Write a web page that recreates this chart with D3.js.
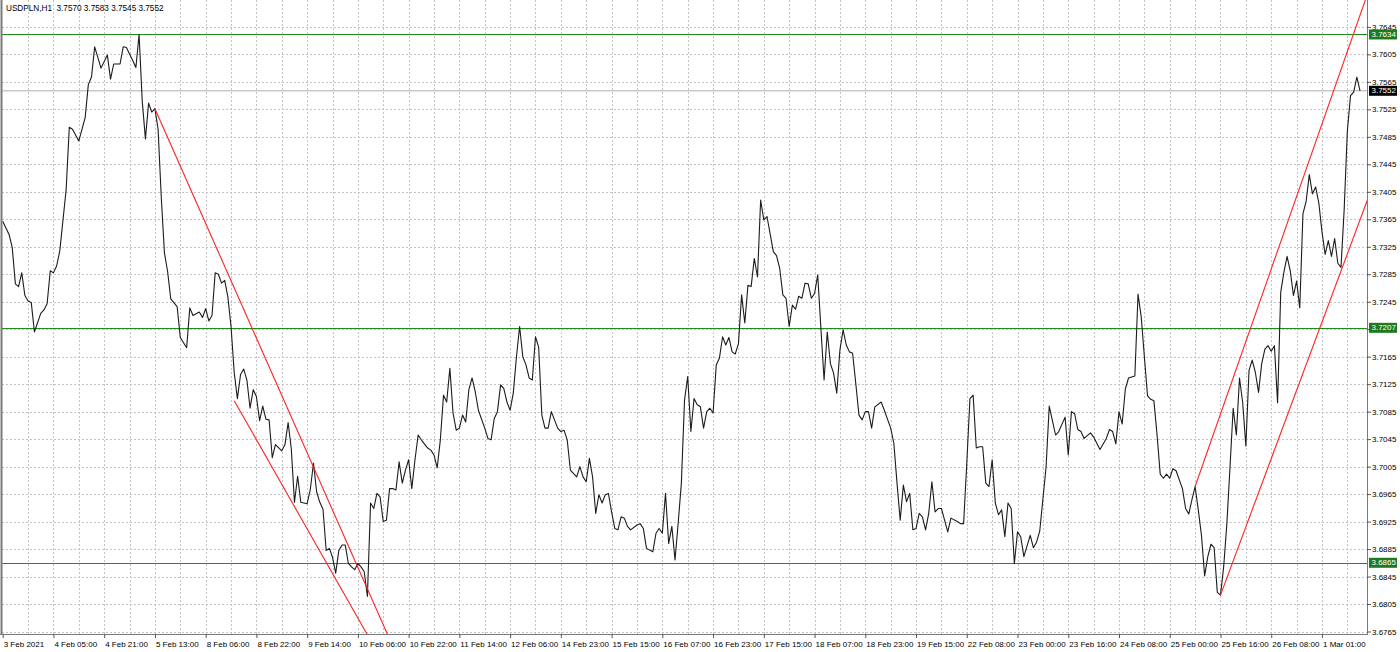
<!DOCTYPE html>
<html>
<head>
<meta charset="utf-8">
<style>
  html, body { margin: 0; padding: 0; background: #ffffff; }
  svg { display: block; font-family: "Liberation Sans", Arial, sans-serif; }
</style>
</head>
<body>
<div id="chart"></div>
<script src="https://d3js.org/d3.v7.min.js"></script>
<script>
// hourly bars, index 0 = 3 Feb 2021 13:00 (weekends skipped)
const bars = [0,2,3,4,5,6,7,8,9,10,12,13,14,15,16,17,18,20,21,22,24,25,26,27,28,29,31,33,34,35,37,38,39,41,42,43,44,45,46,47,48,49,
  50,51,52,53,55,56,58,59,60,62,63,64,65,66,67,68,69,70,71,72,73,74,75,76,77,78,79,80,81,82,83,84,85,86,88,89,90,91,92,93,94,96,97,98,99,
  100,101,102,103,104,105,106,107,108,109,110,111,112,113,114,115,116,117,118,119,120,121,122,123,124,125,126,127,128,129,130,131,132,134,135,136,137,138,139,
  140,141,142,143,144,145,146,147,148,149,150,152,153,154,155,156,157,158,159,160,161,162,163,164,165,166,167,168,169,170,171,172,173,174,175,176,177,178,179,
  181,182,183,184,185,186,187,188,189,190,191,192,193,194,195,196,197,198,200,201,202,203,205,206,207,208,209,210,211,212,213,214,215,216,217,218,219,
  220,221,222,223,224,225,226,227,228,229,230,231,232,233,234,235,236,237,238,239,240,241,243,244,245,246,247,248,249,250,251,252,253,254,255,256,257,258,259,
  260,261,262,263,264,265,266,267,268,269,270,271,272,273,274,275,277,278,280,281,282,283,284,285,286,287,288,289,290,291,292,293,294,295,296,297,298,299,
  301,302,303,304,305,306,307,308,309,310,311,312,313,314,315,316,317,318,319,320,321,322,324,325,326,327,329,330,331,332,333,335,336,337,338,339,
  340,341,343,344,346,348,349,350,351,352,353,354,355,357,358,359,360,361,362,363,364,365,366,367,368,369,370,372,373,374,375,376,377,378,379,
  380,381,382,383,384,385,386,387,388,389,390,391,392,393,394,395,396,397,398,399,400,401,402,403,404,405,406,407,408,409,410,411,412,413,414,415,416,417,418,419,
  420,421,422,423,424,425,426,427,428];

const closes = [3.7362,3.7343,3.7324,3.7271,3.7267,3.7287,3.7254,3.7246,3.7244,3.7201,3.7228,3.7233,3.7242,3.7290,3.7287,3.7297,3.7319,3.7408,3.7499,3.7496,3.7479,3.7496,3.7513,3.7561,3.7572,3.7616,3.7585,3.7604,3.7569,3.7591,3.7591,3.7616,3.7615,3.7596,3.7586,3.7634,3.7537,3.7482,3.7534,3.7521,3.7526,3.7496,
  3.7397,3.7316,3.7289,3.7249,3.7238,3.7193,3.7178,3.7236,3.7225,3.7230,3.7222,3.7235,3.7217,3.7225,3.7287,3.7285,3.7272,3.7276,3.7252,3.7209,3.7142,3.7104,3.7139,3.7147,3.7131,3.7090,3.7117,3.7107,3.7072,3.7093,3.7074,3.7073,3.7018,3.7037,3.7028,3.7037,3.7069,3.7031,3.6953,3.6991,3.6953,3.6951,3.6972,3.7010,3.6968,
  3.6953,3.6943,3.6883,3.6886,3.6873,3.6850,3.6883,3.6891,3.6891,3.6864,3.6859,3.6855,3.6864,3.6859,3.6852,3.6816,3.6952,3.6944,3.6966,3.6961,3.6925,3.6927,3.6973,3.6973,3.6971,3.7012,3.6981,3.7000,3.7015,3.6973,3.7015,3.7051,3.7044,3.7032,3.7029,3.7022,3.7003,3.7044,3.7109,
  3.7099,3.7148,3.7083,3.7058,3.7061,3.7080,3.7070,3.7117,3.7134,3.7114,3.7087,3.7061,3.7046,3.7044,3.7075,3.7085,3.7124,3.7119,3.7099,3.7087,3.7112,3.7165,3.7209,3.7165,3.7153,3.7134,3.7131,3.7194,3.7179,3.7080,3.7061,3.7061,3.7085,3.7073,3.7061,3.7056,3.7058,3.7044,3.7000,
  3.6990,3.7005,3.6990,3.6983,3.7017,3.6990,3.6937,3.6964,3.6952,3.6964,3.6966,3.6939,3.6915,3.6913,3.6932,3.6930,3.6918,3.6913,3.6920,3.6922,3.6915,3.6886,3.6881,3.6908,3.6915,3.6908,3.6966,3.6893,3.6918,3.6869,3.6923,3.6981,3.7102,3.7136,3.7056,3.7104,3.7095,
  3.7092,3.7061,3.7085,3.7090,3.7083,3.7153,3.7163,3.7194,3.7182,3.7193,3.7172,3.7169,3.7184,3.7255,3.7214,3.7269,3.7267,3.7308,3.7281,3.7393,3.7364,3.7369,3.7318,3.7312,3.7294,3.7255,3.7250,3.7209,3.7240,3.7234,3.7253,3.7250,3.7272,3.7271,3.7250,3.7257,3.7284,3.7206,3.7131,
  3.7201,3.7155,3.7141,3.7112,3.7175,3.7204,3.7182,3.7172,3.7170,3.7126,3.7080,3.7073,3.7085,3.7085,3.7061,3.7092,3.7099,3.7087,3.7061,3.7039,3.6981,3.6927,3.6978,3.6954,3.6966,3.6913,3.6915,3.6937,3.6932,3.6913,3.6937,3.6983,3.6939,3.6944,3.6944,3.6927,3.6910,3.6930,
  3.6925,3.6922,3.6922,3.7010,3.7104,3.7109,3.7032,3.7034,3.7034,3.6981,3.6976,3.7015,3.6952,3.6935,3.6942,3.6903,3.6952,3.6944,3.6864,3.6910,3.6903,3.6874,3.6905,3.6887,3.6895,3.6911,3.7004,3.7093,3.7072,3.7051,3.7056,3.7077,3.7022,3.7085,3.7082,3.7059,
  3.7056,3.7046,3.7054,3.7048,3.7030,3.7046,3.7059,3.7056,3.7038,3.7085,3.7067,3.7118,3.7134,3.7137,3.7256,3.7223,3.7165,3.7108,3.7103,3.7101,3.7051,3.6994,3.6988,3.6994,3.6988,3.7002,3.6999,3.6973,3.6944,3.6936,3.6957,3.6976,3.6942,3.6905,3.6846,
  3.6874,3.6892,3.6887,3.6822,3.6818,3.6859,3.6921,3.7004,3.7090,3.7051,3.7134,3.7098,3.7035,3.7145,3.7160,3.7142,3.7113,3.7155,3.7176,3.7181,3.7173,3.7181,3.7098,3.7259,3.7288,3.7311,3.7290,3.7254,3.7275,3.7236,3.7373,3.7391,3.7430,3.7402,3.7412,3.7389,3.7347,3.7314,3.7334,3.7311,
  3.7337,3.7301,3.7295,3.7379,3.7493,3.7545,3.7550,3.7572,3.7552];

// time axis labels, one every 16 bars
const timeLabels = ["3 Feb 2021","4 Feb 05:00","4 Feb 21:00","5 Feb 13:00","8 Feb 06:00","8 Feb 22:00","9 Feb 14:00",
  "10 Feb 06:00","10 Feb 22:00","11 Feb 14:00","12 Feb 06:00","14 Feb 23:00","15 Feb 15:00","16 Feb 07:00","16 Feb 23:00",
  "17 Feb 15:00","18 Feb 07:00","18 Feb 23:00","19 Feb 15:00","22 Feb 08:00","23 Feb 00:00","23 Feb 16:00","24 Feb 08:00",
  "25 Feb 00:00","25 Feb 16:00","26 Feb 08:00","1 Mar 01:00"];

// price axis levels
const priceTicks = [3.6765,3.6805,3.6845,3.6885,3.6925,3.6965,3.7005,3.7045,3.7085,3.7125,3.7165,3.7205,
  3.7245,3.7285,3.7325,3.7365,3.7405,3.7445,3.7485,3.7525,3.7565,3.7605,3.7645];

// horizontal levels and bid
const levels = [3.7634, 3.7207, 3.6865];
const bid = 3.7552;
const header = ["USDPLN,H1", "3.7570", "3.7583", "3.7545", "3.7552"];

// trend lines (rays): start bar/price, second anchor bar/price
const trendBar1 = [48, 73, 376, 384];
const trendPrice1 = [3.7526, 3.7101, 3.6976, 3.6818];
const trendBar2 = [108, 108, 423, 430];
const trendPrice2 = [3.6900, 3.6817, 3.7596, 3.7389];

const W = 1400, H = 652;
const pL = 2, pR = 1367, pT = 0, pB = 634;
const fs = 8;

const svg = d3.select("#chart").append("svg")
  .attr("width", W).attr("height", H);

const x = d3.scaleLinear().domain([0, 430.2]).range([2.7, pR]);
const y = d3.scaleLinear().domain([3.6765, 3.7645]).range([631.5, 26.9]);

svg.append("defs").append("clipPath").attr("id", "plot")
  .append("rect").attr("x", pL).attr("y", pT)
  .attr("width", pR - pL).attr("height", pB - pT);

// grid
const grid = svg.append("g").attr("stroke", "#c4c4c4").attr("stroke-dasharray", "2,2").attr("stroke-width", 1);
grid.selectAll(".vg").data(d3.range(8, 430, 8)).enter().append("line")
  .attr("x1", d => Math.round(x(d)) + 0.5).attr("x2", d => Math.round(x(d)) + 0.5)
  .attr("y1", pT).attr("y2", pB);
grid.selectAll(".hg").data(priceTicks).enter().append("line")
  .attr("x1", pL).attr("x2", pR)
  .attr("y1", d => Math.round(y(d)) + 0.5).attr("y2", d => Math.round(y(d)) + 0.5);

const plot = svg.append("g").attr("clip-path", "url(#plot)");

// bid line
plot.append("line").attr("x1", pL).attr("x2", pR)
  .attr("y1", y(bid)).attr("y2", y(bid))
  .attr("stroke", "#c8c8c8").attr("stroke-width", 1.5);

// horizontal levels
plot.selectAll(".lvl").data(levels).enter().append("line")
  .attr("x1", pL).attr("x2", pR)
  .attr("y1", d => Math.round(y(d)) + 0.5).attr("y2", d => Math.round(y(d)) + 0.5)
  .attr("stroke", "#1f8a1f").attr("stroke-width", 1);

// price line
const n = Math.min(bars.length, closes.length);
const line = d3.line().x(i => x(bars[i])).y(i => y(closes[i]));
plot.append("path").datum(d3.range(n))
  .attr("d", line)
  .attr("fill", "none").attr("stroke", "#1c1c1c").attr("stroke-width", 1.1)
  .attr("stroke-linejoin", "round");

// trend rays
trendBar1.forEach((b1, i) => {
  const slope = (trendPrice2[i] - trendPrice1[i]) / (trendBar2[i] - b1);
  const bEnd = 460;
  plot.append("line")
    .attr("x1", x(b1)).attr("y1", y(trendPrice1[i]))
    .attr("x2", x(bEnd)).attr("y2", y(trendPrice1[i] + slope * (bEnd - b1)))
    .attr("stroke", "#ff2222").attr("stroke-width", 1.1);
});

// frame
const frame = svg.append("g").attr("stroke", "#7a7a7a");
frame.append("line").attr("x1", 1.5).attr("x2", 1.5).attr("y1", 0).attr("y2", pB).attr("stroke-width", 2);
frame.append("line").attr("x1", pR + 0.5).attr("x2", pR + 0.5).attr("y1", 0).attr("y2", pB + 0.5);
frame.append("line").attr("x1", 0).attr("x2", pR + 1).attr("y1", pB + 0.5).attr("y2", pB + 0.5);

// axes
const xAxis = d3.axisBottom(x)
  .tickValues(timeLabels.map((d, i) => i * 16))
  .tickFormat((d, i) => timeLabels[i])
  .tickSize(4).tickPadding(3);
const gx = svg.append("g").attr("transform", `translate(0,${pB})`).call(xAxis);
gx.select(".domain").remove();
gx.selectAll("line").attr("stroke", "#555");
gx.selectAll("text").attr("text-anchor", "start").attr("x", 0.5)
  .attr("font-size", fs).attr("fill", "#000");

const yAxis = d3.axisRight(y)
  .tickValues(priceTicks)
  .tickFormat(d3.format(".4f"))
  .tickSize(4).tickPadding(1);
const gy = svg.append("g").attr("transform", `translate(${pR},0)`).call(yAxis);
gy.select(".domain").remove();
gy.selectAll("line").attr("stroke", "#555");
gy.selectAll("text").attr("font-size", fs).attr("fill", "#000");

// level tags on price axis
const tags = levels.map(v => ({v, fill: "#1f7a1f"})).concat([{v: bid, fill: "#000"}]);
const tg = svg.selectAll(".tag").data(tags).enter().append("g")
  .attr("transform", d => `translate(${pR + 2},${y(d.v)})`);
tg.append("rect").attr("x", 0).attr("y", -5).attr("width", 28).attr("height", 10)
  .attr("fill", d => d.fill);
tg.append("text").attr("x", 2.5).attr("y", 0).attr("dy", "0.33em")
  .attr("font-size", fs).attr("fill", "#fff").text(d => d3.format(".4f")(d.v));

// header
svg.append("text").attr("x", 6).attr("y", 10.5)
  .attr("font-size", 8.2).attr("fill", "#000")
  .attr("xml:space", "preserve")
  .text(header[0] + "  " + header.slice(1).join(" "));
</script>
</body>
</html>
